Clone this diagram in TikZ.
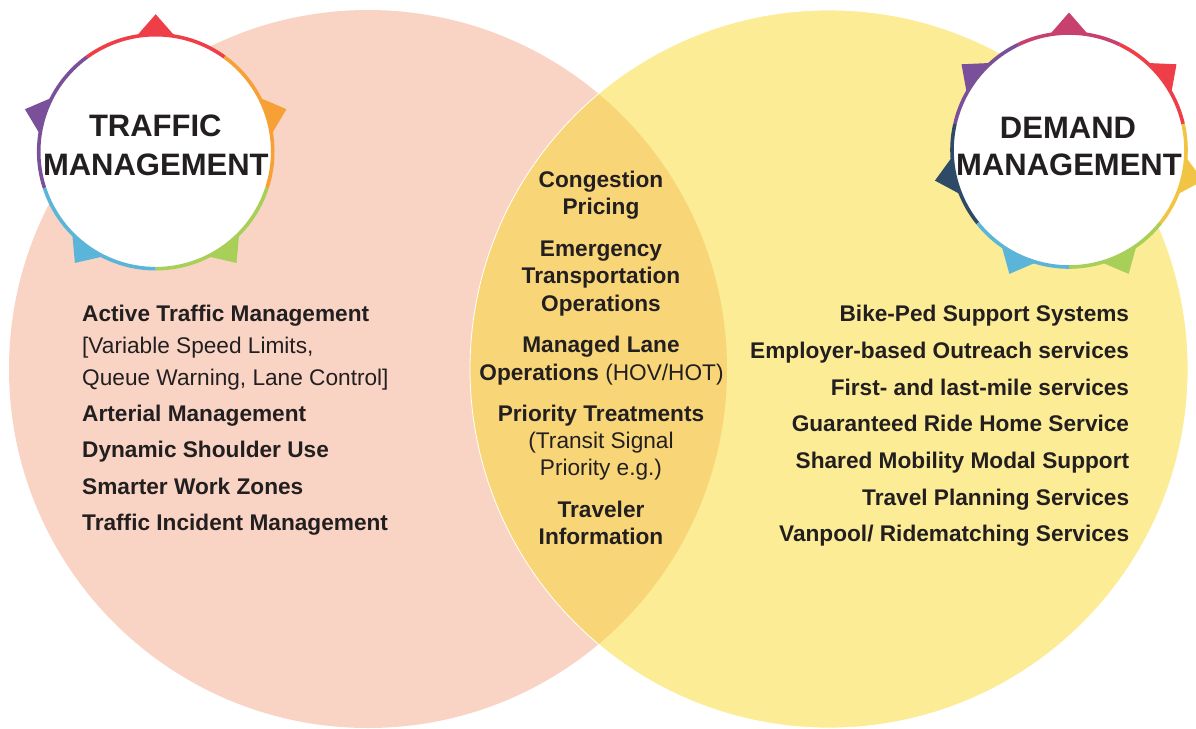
\documentclass[tikz,border=0pt]{standalone}
\usepackage{fontspec}
\setmainfont{Liberation Sans}
\definecolor{salmon}{HTML}{F9D4C4}
\definecolor{lemon}{HTML}{FBEC95}
\definecolor{lens}{HTML}{F8D677}
\definecolor{ink}{HTML}{231F20}
\definecolor{cRed}{HTML}{EE3E47}
\definecolor{cOrange}{HTML}{F7A035}
\definecolor{cGreen}{HTML}{A8CF58}
\definecolor{cBlue}{HTML}{5BB5D8}
\definecolor{cPurple}{HTML}{7B509B}
\definecolor{cMagenta}{HTML}{C7406E}
\definecolor{cNavy}{HTML}{2F4A66}
\definecolor{cYellow}{HTML}{F2C443}
\tikzset{
  itemtext/.style={text=ink, inner sep=0pt, font=\fontsize{22.65}{27}\selectfont},
  boldtext/.style={itemtext, font=\fontsize{22.65}{27}\selectfont\bfseries},
  badgetext/.style={text=ink, inner sep=0pt, font=\fontsize{31}{36}\selectfont\bfseries},
}
% tooth: \badgeseg{color}{start}{end}{tooth angle}
\newcommand{\badgeseg}[4]{%
  \fill[#1] (#4-9.5:117) -- (#4:137.5) -- (#4+9.5:117) -- cycle;
}
\newcommand{\badgering}[3]{%
  \draw[#1, line width=3.6pt] (#2:117) arc[start angle=#2, end angle=#3, radius=117];
}
\begin{document}
\begin{tikzpicture}[x=1pt,y=-1pt]
\useasboundingbox (0,0) rectangle (1196,728);
% big circles
\fill[salmon] (368,369) circle[radius=359];
\fill[lemon] (829,369) circle[radius=359];
\begin{scope}
  \clip (368,369) circle[radius=359];
  \fill[lens] (829,369) circle[radius=359];
\end{scope}
\draw[white, line width=0.8pt] (829,369) circle[radius=359];

% left badge
\begin{scope}[shift={(155.7,151.7)}, yscale=-1]
  \badgeseg{cRed}{54}{126}{90}
  \badgeseg{cOrange}{-18}{54}{18}
  \badgeseg{cGreen}{-90}{-18}{-54}
  \badgeseg{cBlue}{-162}{-90}{-126}
  \badgeseg{cPurple}{126}{198}{162}
  \fill[white] (0,0) circle[radius=117];
  \badgering{cRed}{54}{126}
  \badgering{cOrange}{-18}{54}
  \badgering{cGreen}{-90}{-18}
  \badgering{cBlue}{-162}{-90}
  \badgering{cPurple}{126}{198}
\end{scope}
\node[badgetext, anchor=base] (tm1) at (155.3,136.7) {TRAFFIC};
\node[badgetext, anchor=base] (tm2) at (155.8,175) {MANAGEMENT};

% right badge
\begin{scope}[shift={(1069,150)}, yscale=-1]
  \badgeseg{cMagenta}{64.29}{115.71}{90}
  \badgeseg{cRed}{12.86}{64.29}{38.57}
  \badgeseg{cYellow}{-38.57}{12.86}{-12.86}
  \badgeseg{cGreen}{-90}{-38.57}{-64.29}
  \badgeseg{cBlue}{-141.43}{-90}{-115.71}
  \badgeseg{cNavy}{-192.86}{-141.43}{-167.14}
  \badgeseg{cPurple}{115.71}{167.14}{141.43}
  \fill[white] (0,0) circle[radius=117];
  \badgering{cMagenta}{64.29}{115.71}
  \badgering{cRed}{12.86}{64.29}
  \badgering{cYellow}{-38.57}{12.86}
  \badgering{cGreen}{-90}{-38.57}
  \badgering{cBlue}{-141.43}{-90}
  \badgering{cNavy}{-192.86}{-141.43}
  \badgering{cPurple}{115.71}{167.14}
\end{scope}
\node[badgetext, anchor=base] (dm1) at (1068,138.3) {DEMAND};
\node[badgetext, anchor=base] (dm2) at (1069,175) {MANAGEMENT};

% left list
\node[boldtext, anchor=base west] (l1) at (82,321) {Active Traffic Management};
\node[itemtext, anchor=base west] (l2) at (82,353.3) {[Variable Speed Limits,};
\node[itemtext, anchor=base west] (l3) at (82,385) {Queue Warning, Lane Control]};
\node[boldtext, anchor=base west] (l4) at (82,421) {Arterial Management};
\node[boldtext, anchor=base west] (l5) at (82,457.3) {Dynamic Shoulder Use};
\node[boldtext, anchor=base west] (l6) at (82,494) {Smarter Work Zones};
\node[boldtext, anchor=base west] (l7) at (82,530.7) {Traffic Incident Management};

% middle list
\node[boldtext, anchor=base] (m1) at (601,187.3) {Congestion};
\node[boldtext, anchor=base] (m2) at (601,214.3) {Pricing};
\node[boldtext, anchor=base] (m3) at (601,256.7) {Emergency};
\node[boldtext, anchor=base] (m4) at (601,283.3) {Transportation};
\node[boldtext, anchor=base] (m5) at (601,311) {Operations};
\node[boldtext, anchor=base] (m6) at (601,352.3) {Managed Lane};
\node[boldtext, anchor=base] (m7) at (601.5,380) {Operations \mdseries(HOV/HOT)};
\node[boldtext, anchor=base] (m8) at (601,421.7) {Priority Treatments};
\node[itemtext, anchor=base] (m9) at (601,448.3) {(Transit Signal};
\node[itemtext, anchor=base] (m10) at (601,475.7) {Priority e.g.)};
\node[boldtext, anchor=base] (m11) at (601,517.3) {Traveler};
\node[boldtext, anchor=base] (m12) at (601,544.3) {Information};

% right list
\node[boldtext, anchor=base east] (r1) at (1129.3,321) {Bike-Ped Support Systems};
\node[boldtext, anchor=base east] (r2) at (1129.3,358) {Employer-based Outreach services};
\node[boldtext, anchor=base east] (r3) at (1129.3,395) {First- and last-mile services};
\node[boldtext, anchor=base east] (r4) at (1129.3,431.7) {Guaranteed Ride Home Service};
\node[boldtext, anchor=base east] (r5) at (1129.3,468.3) {Shared Mobility Modal Support};
\node[boldtext, anchor=base east] (r6) at (1129.3,505.7) {Travel Planning Services};
\node[boldtext, anchor=base east] (r7) at (1129.3,541.7) {Vanpool/ Ridematching Services};
\end{tikzpicture}
\end{document}
